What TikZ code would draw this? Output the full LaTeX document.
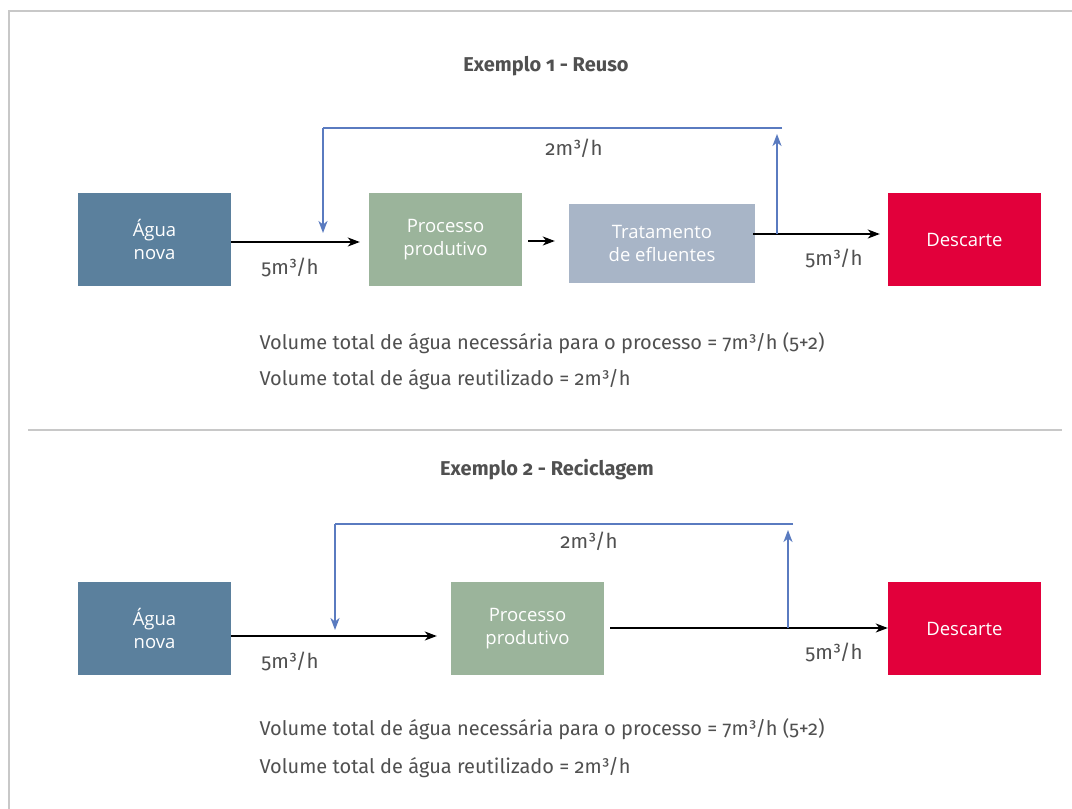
\documentclass[tikz,border=0pt]{standalone}
\usepackage{fontspec}
\setmainfont{Fira Sans}[Numbers=OldStyle]
\newfontfamily\boxfont{Open Sans}
\usetikzlibrary{arrows.meta}

\definecolor{frameGray}{HTML}{C8C8C8}
\definecolor{textGray}{HTML}{505050}
\definecolor{aguaBlue}{HTML}{5B809D}
\definecolor{procGreen}{HTML}{9BB49B}
\definecolor{tratGray}{HTML}{A8B5C7}
\definecolor{descRed}{HTML}{E2003B}
\definecolor{loopBlue}{HTML}{3D60AF}
\definecolor{loopLine}{HTML}{5A7BC0}

\tikzset{
  unitbox/.style={draw=none, minimum width=153pt, minimum height=93pt,
    inner sep=0pt, text=white, font=\boxfont\fontsize{18.5}{23}\selectfont,
    align=center},
  flow/.style={draw=black, line width=1.4pt,
    -{Stealth[length=12pt,width=9pt,inset=3.5pt]}},
  loopline/.style={draw=loopLine, line width=1.8pt},
  looparrow/.style={loopline, -{Stealth[length=12pt,width=9pt,inset=3.5pt,fill=loopBlue]}},
  title/.style={text=textGray, font=\bfseries\fontsize{20}{24}\selectfont},
  rate/.style={text=textGray, font=\fontsize{20.5}{24}\selectfont},
  summary/.style={text=textGray, font=\fontsize{20}{24}\selectfont, anchor=west},
  rule/.style={draw=frameGray, line width=2pt}
}

\begin{document}
\begin{tikzpicture}[x=1pt, y=-1pt]
  \useasboundingbox (0,0) rectangle (1072,809);
  \fill[white] (0,0) rectangle (1072,809);

  % page frame and divider
  \draw[rule] (9,809) -- (9,11) -- (1072,11);
  \draw[rule] (28,430) -- (1062,430);

  % ---------- Example 1: reuse ----------
  \node[title] (t1) at (546,66) {Exemplo 1 - Reuso};

  \node[unitbox, fill=aguaBlue]  (agua1) at (154.5,239.5) {Água\\nova};
  \node[unitbox, fill=procGreen] (proc1) at (445.5,239.5) {Processo\\produtivo};
  \node[unitbox, fill=tratGray, minimum width=186pt, minimum height=79pt]
        (trat1) at (662,243.5) {Tratamento\\de efluentes};
  \node[unitbox, fill=descRed]   (desc1) at (964.5,239.5) {Descarte};

  \coordinate (in1)  at (300,242);
  \coordinate (j1)   at (777,234);
  \coordinate (u1)   at (777,134);
  \coordinate (tr1)  at (782,128);
  \coordinate (tl1)  at (323,128);
  \coordinate (d1)   at (323,233);

  \draw[flow, shorten >=9pt] (agua1.east |- in1) -- (in1 -| proc1.west);
  \draw[flow, shorten <=6pt, shorten >=14pt] (proc1.east |- 0,241) -- (trat1.west |- 0,241);
  \draw[flow, shorten <=-2pt, shorten >=8pt] (trat1.east |- j1) -- (j1 -| desc1.west);

  \draw[looparrow] (j1) -- (u1);
  \draw[loopline] (tr1) -- (tl1);
  \draw[looparrow] (tl1) -- (d1);

  \node[rate] (r1a) at (290,267) {5m³/h};
  \node[rate] (r1b) at (574,148) {2m³/h};
  \node[rate] (r1c) at (834,258) {5m³/h};

  \node[summary] (s1a) at (256,343) {Volume total de água necessária para o processo = 7m³/h (5+2)};
  \node[summary] (s1b) at (256,380) {Volume total de água reutilizado = 2m³/h};

  % ---------- Example 2: recycling ----------
  \node[title] (t2) at (547,470) {Exemplo 2 - Reciclagem};

  \node[unitbox, fill=aguaBlue]  (agua2) at (154.5,628.5) {Água\\nova};
  \node[unitbox, fill=procGreen] (proc2) at (527.5,628.5) {Processo\\produtivo};
  \node[unitbox, fill=descRed]   (desc2) at (964.5,628.5) {Descarte};

  \coordinate (in2)  at (300,636);
  \coordinate (j2)   at (788,628);
  \coordinate (u2)   at (788,530);
  \coordinate (tr2)  at (793,524);
  \coordinate (tl2)  at (335,524);
  \coordinate (d2)   at (335,630);

  \draw[flow, shorten >=14pt] (agua2.east |- in2) -- (in2 -| proc2.west);
  \draw[flow, shorten <=6pt, shorten >=0pt] (proc2.east |- j2) -- (j2 -| desc2.west);

  \draw[looparrow] (j2) -- (u2);
  \draw[loopline] (tr2) -- (tl2);
  \draw[looparrow] (tl2) -- (d2);

  \node[rate] (r2a) at (290,661) {5m³/h};
  \node[rate] (r2b) at (589,541) {2m³/h};
  \node[rate] (r2c) at (834,652) {5m³/h};

  \node[summary] (s2a) at (256,729) {Volume total de água necessária para o processo = 7m³/h (5+2)};
  \node[summary] (s2b) at (256,768) {Volume total de água reutilizado = 2m³/h};
\end{tikzpicture}
\end{document}
